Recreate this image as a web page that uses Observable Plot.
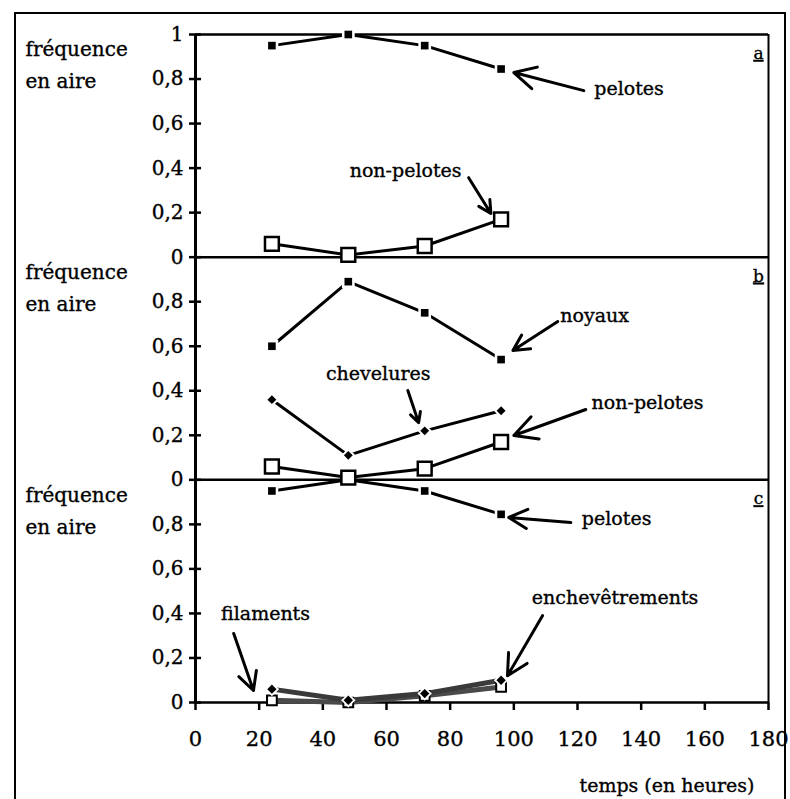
<!DOCTYPE html>
<html>
<head>
<meta charset="utf-8">
<script src="https://cdn.jsdelivr.net/npm/d3@7"></script>
<script src="https://cdn.jsdelivr.net/npm/@observablehq/plot@0.6"></script>
<style>
  html, body { margin: 0; padding: 0; background: white; }
  #wrap { position: relative; width: 790px; height: 799px; overflow: hidden; }
  #border { position: absolute; left: 14px; top: 12px; width: 772px; height: 820px; border: 2.5px solid black; box-sizing: border-box; pointer-events: none; }
  #chart svg text { stroke: black; stroke-width: 0.35px; }
  .panel-letter text { text-decoration: underline; }
</style>
</head>
<body>
<div id="wrap"><div id="chart"></div><div id="border"></div></div>
<script>
// ---- data ----
const times = [24, 48, 72, 96];
const pelotes = [0.95, 1.0, 0.95, 0.845];
const nonPelotes = [0.06, 0.01, 0.05, 0.17];
const noyaux = [0.60, 0.89, 0.75, 0.54];
const chevelures = [0.36, 0.11, 0.22, 0.31];
const enchevetrements = [0.06, 0.01, 0.04, 0.10];
const filaments = [0.01, 0.0, 0.03, 0.07];

const panels = ["a", "b", "c"];
const panelOffset = {a: 2, b: 1, c: 0};
const xTicks = [0, 20, 40, 60, 80, 100, 120, 140, 160, 180];
const yTickValues = [0, 0.2, 0.4, 0.6, 0.8];
const yTickLabels = ["0", "0,2", "0,4", "0,6", "0,8"];
const yTopLabel = "1";
const yTitleLines = ["fréquence", "en aire"];
const xTitle = "temps (en heures)";

const annotations = [
  {panel: "a", label: "pelotes", t: 136.2, v: 0.757},
  {panel: "a", label: "non-pelotes", t: 66.0, v: 0.389},
  {panel: "b", label: "noyaux", t: 125.4, v: 0.738},
  {panel: "b", label: "chevelures", t: 57.4, v: 0.477},
  {panel: "b", label: "non-pelotes", t: 142.0, v: 0.347},
  {panel: "c", label: "pelotes", t: 132.3, v: 0.826},
  {panel: "c", label: "filaments", t: 22, v: 0.40},
  {panel: "c", label: "enchevêtrements", t: 131.8, v: 0.471}
];
const arrows = [
  {panel: "a", t1: 122, v1: 0.748, t2: 100, v2: 0.829},
  {panel: "a", t1: 85.8, v1: 0.357, t2: 92.8, v2: 0.196},
  {panel: "b", t1: 113.8, v1: 0.711, t2: 99.7, v2: 0.581},
  {panel: "b", t1: 66.7, v1: 0.401, t2: 70.1, v2: 0.257},
  {panel: "b", t1: 122.6, v1: 0.316, t2: 100, v2: 0.199},
  {panel: "c", t1: 117.9, v1: 0.808, t2: 98.4, v2: 0.831},
  {panel: "c", t1: 12, v1: 0.31, t2: 18.2, v2: 0.054},
  {panel: "c", t1: 109, v1: 0.39, t2: 98, v2: 0.12}
];

// ---- build tables ----
function rows(panel, series, values) {
  return times.map((t, i) => ({panel, series, t, v: values[i], y: values[i] + panelOffset[panel]}));
}
const filledSquares = [...rows("a", "pelotes", pelotes), ...rows("b", "noyaux", noyaux), ...rows("c", "pelotes", pelotes)];
const openSquares = [...rows("a", "non-pelotes", nonPelotes), ...rows("b", "non-pelotes", nonPelotes)];
const diamonds = rows("b", "chevelures", chevelures);
const enchev = rows("c", "enchevetrements", enchevetrements);
const fil = rows("c", "filaments", filaments);

const tickMap = new Map();
panels.forEach(p => yTickValues.forEach((v, i) => tickMap.set(+(v + panelOffset[p]).toFixed(3), yTickLabels[i])));
tickMap.set(3, yTopLabel);
const stackedTicks = [...tickMap.keys()];

const ann = annotations.map(d => ({...d, y: d.v + panelOffset[d.panel]}));
const arr = arrows.map(d => ({...d, y1: d.v1 + panelOffset[d.panel], y2: d.v2 + panelOffset[d.panel]}));

const chart = Plot.plot({
  width: 790,
  height: 799,
  marginLeft: 195,
  marginRight: 22,
  marginTop: 34,
  marginBottom: 97,
  x: {domain: [0, 180]},
  y: {domain: [0, 3]},
  style: {fontFamily: "DejaVu Serif", fontSize: "20px", background: "white", color: "black"},
  marks: [
    // frame lines
    Plot.ruleY([0, 1, 2, 3], {x1: 0, x2: 180, stroke: "black", strokeWidth: 2.5}),
    Plot.ruleX([0], {y1: 0, y2: 3, stroke: "black", strokeWidth: 3}),
    Plot.ruleX([180], {y1: 0, y2: 3, stroke: "black", strokeWidth: 2}),
    // axes
    Plot.axisY({ticks: stackedTicks, tickFormat: v => tickMap.get(+v.toFixed(3)), tickSize: 6, tickPadding: 6, strokeWidth: 2.5, fontSize: 20, label: null}),
    Plot.ruleY(stackedTicks, {x1: 0, x2: 1.9, stroke: "black", strokeWidth: 2.5}),
    Plot.axisX({ticks: xTicks, tickSize: 8, tickPadding: 21, strokeWidth: 2.5, fontSize: 21, label: null}),
    // y titles
    Plot.text(panels, {x: -53.4, y: p => panelOffset[p] + 0.8, text: () => yTitleLines[0], textAnchor: "start", dy: -29, fontSize: 20}),
    Plot.text(panels, {x: -53.4, y: p => panelOffset[p] + 0.8, text: () => yTitleLines[1], textAnchor: "start", dy: 3, fontSize: 20}),
    // panel letters
    Plot.text(panels, {x: 180, y: p => panelOffset[p] + 1, text: p => p, dx: -10, dy: 19, fontSize: 17, className: "panel-letter"}),
    // x title
    Plot.text([xTitle], {x: 180, y: 0, text: d => d, textAnchor: "end", dx: -14, dy: 83, fontSize: 19}),
    // panel c thick gray lines
    Plot.line(fil, {x: "t", y: "y", stroke: "#4a4a4a", strokeWidth: 5}),
    Plot.line(enchev, {x: "t", y: "y", stroke: "#3a3a3a", strokeWidth: 5}),
    Plot.dot(fil, {x: "t", y: "y", symbol: "square", r: 5.5, fill: "white", stroke: "black", strokeWidth: 2}),
    Plot.dot(enchev, {x: "t", y: "y", symbol: "diamond2", r: 6.5, fill: "white"}),
    Plot.dot(enchev, {x: "t", y: "y", symbol: "diamond2", r: 4.2, fill: "black"}),
    // lines
    Plot.line(filledSquares, {x: "t", y: "y", z: d => d.panel + d.series, stroke: "black", strokeWidth: 3}),
    Plot.line(diamonds, {x: "t", y: "y", stroke: "black", strokeWidth: 3}),
    Plot.line(openSquares, {x: "t", y: "y", z: d => d.panel + d.series, stroke: "black", strokeWidth: 3}),
    // markers with white halo
    Plot.dot(filledSquares, {x: "t", y: "y", symbol: "square", r: 7.2, fill: "white"}),
    Plot.dot(filledSquares, {x: "t", y: "y", symbol: "square", r: 4.3, fill: "black"}),
    Plot.dot(diamonds, {x: "t", y: "y", symbol: "diamond2", r: 6.5, fill: "white"}),
    Plot.dot(diamonds, {x: "t", y: "y", symbol: "diamond2", r: 4, fill: "black"}),
    Plot.dot(openSquares, {x: "t", y: "y", symbol: "square", r: 7.8, fill: "white", stroke: "black", strokeWidth: 2.5}),
    // annotations
    Plot.arrow(arr, {x1: "t1", y1: "y1", x2: "t2", y2: "y2", stroke: "black", strokeWidth: 3, headLength: 15, headAngle: 55}),
    Plot.text(ann, {x: "t", y: "y", text: "label", fontSize: 19})
  ]
});
document.getElementById("chart").appendChild(chart);
</script>
</body>
</html>
